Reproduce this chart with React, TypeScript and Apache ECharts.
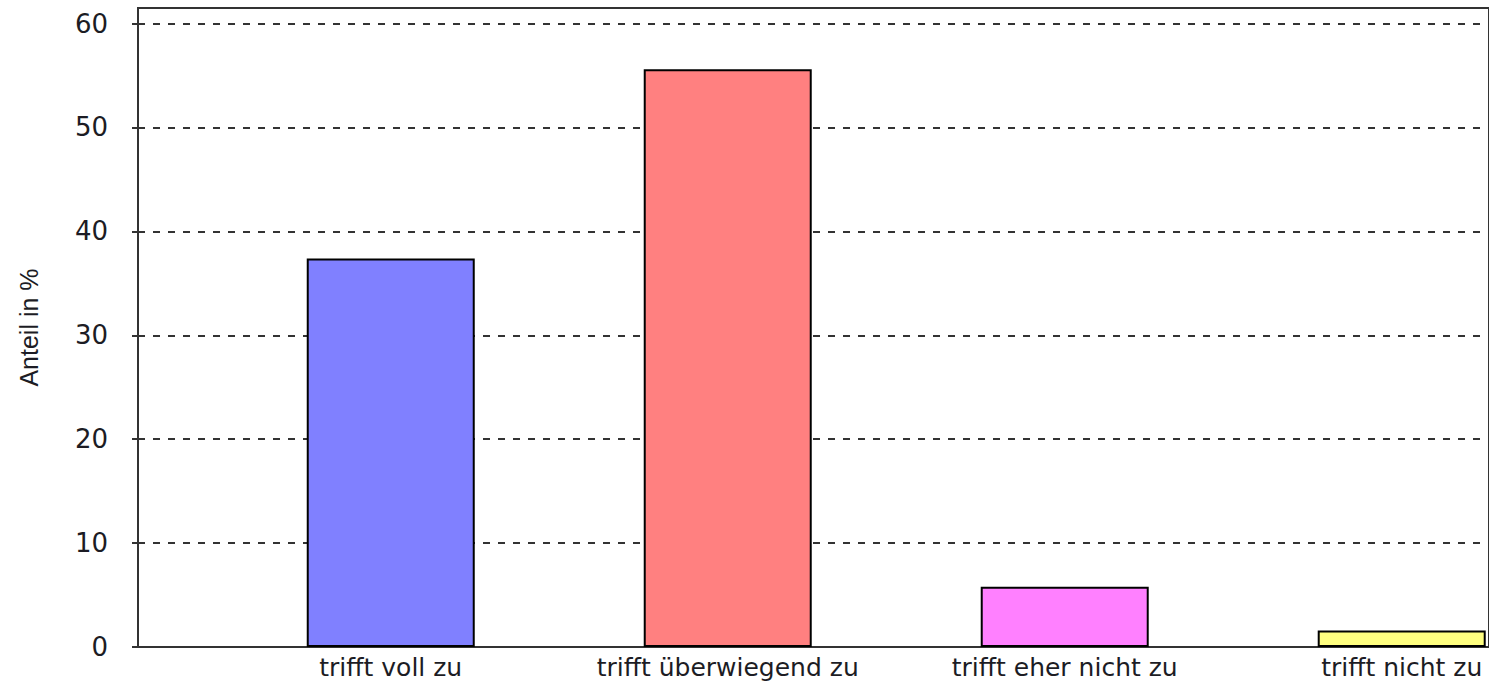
import React, { useEffect, useRef } from "react";
import * as echarts from "echarts";

const categories = [
  "trifft voll zu",
  "trifft überwiegend zu",
  "trifft eher nicht zu",
  "trifft nicht zu",
];
const shares = [37.4, 55.6, 5.8, 1.6];
const barColors = ["#8080FF", "#FF8080", "#FF80FF", "#FFFF80"];
const yTicks = [0, 10, 20, 30, 40, 50, 60];
const yAxisName = "Anteil in %";

// bars sit in the right half of each category band
const BAR_OFFSET = 0.75;
const X_MAX = 4.009;
const Y_MAX = 61.5;

export default function App() {
  const ref = useRef<HTMLDivElement>(null);

  useEffect(() => {
    if (!ref.current) return;
    const chart = echarts.init(ref.current, undefined, { renderer: "svg" });
    const labelPositions = categories.map((_, i) => i + BAR_OFFSET);
    chart.setOption({
      animation: false,
      backgroundColor: "#ffffff",
      grid: {
        left: 138,
        top: 8,
        right: 0,
        bottom: 36,
        show: true,
        borderColor: "#333",
        borderWidth: 2,
        backgroundColor: "transparent",
      },
      xAxis: {
        type: "value",
        min: 0,
        max: X_MAX,
        axisLine: { show: true, onZero: false, lineStyle: { color: "#333", width: 2 } },
        axisTick: { show: false },
        splitLine: { show: false },
        axisLabel: {
          customValues: labelPositions,
          margin: 8,
          fontFamily: "DejaVu Sans",
          fontSize: 25,
          color: "#1c1c24",
          formatter: (v: number) => {
            const i = Math.round(v - BAR_OFFSET);
            return Math.abs(v - BAR_OFFSET - i) < 1e-6 && categories[i] ? categories[i] : "";
          },
        },
      },
      yAxis: {
        type: "value",
        min: 0,
        max: Y_MAX,
        interval: 10,
        name: yAxisName,
        nameLocation: "middle",
        nameRotate: 90,
        nameGap: 97,
        nameTextStyle: {
          fontFamily: "Liberation Sans",
          fontSize: 25,
          color: "#1c1c24",
        },
        axisLine: { show: true, lineStyle: { color: "#333", width: 2 } },
        axisTick: {
          show: true,
          length: 6,
          customValues: yTicks,
          lineStyle: { color: "#333", width: 2 },
        },
        axisLabel: {
          customValues: yTicks,
          margin: 30,
          fontFamily: "DejaVu Sans",
          fontSize: 26,
          color: "#1c1c24",
          formatter: (v: number) => (v % 10 === 0 ? String(v) : ""),
        },
        splitLine: {
          show: true,
          lineStyle: { color: "#333", width: 2, type: [7, 8] },
        },
      },
      series: [
        {
          type: "bar",
          barWidth: 168,
          data: shares.map((v, i) => ({
            value: [i + BAR_OFFSET, v],
            itemStyle: { color: barColors[i] },
          })),
          itemStyle: { borderColor: "#000", borderWidth: 2 },
        },
      ],
    });
    return () => chart.dispose();
  }, []);

  return (
    <div
      ref={ref}
      style={{ position: "absolute", left: 0, top: 0, width: 1489, height: 683, background: "#fff" }}
    />
  );
}
